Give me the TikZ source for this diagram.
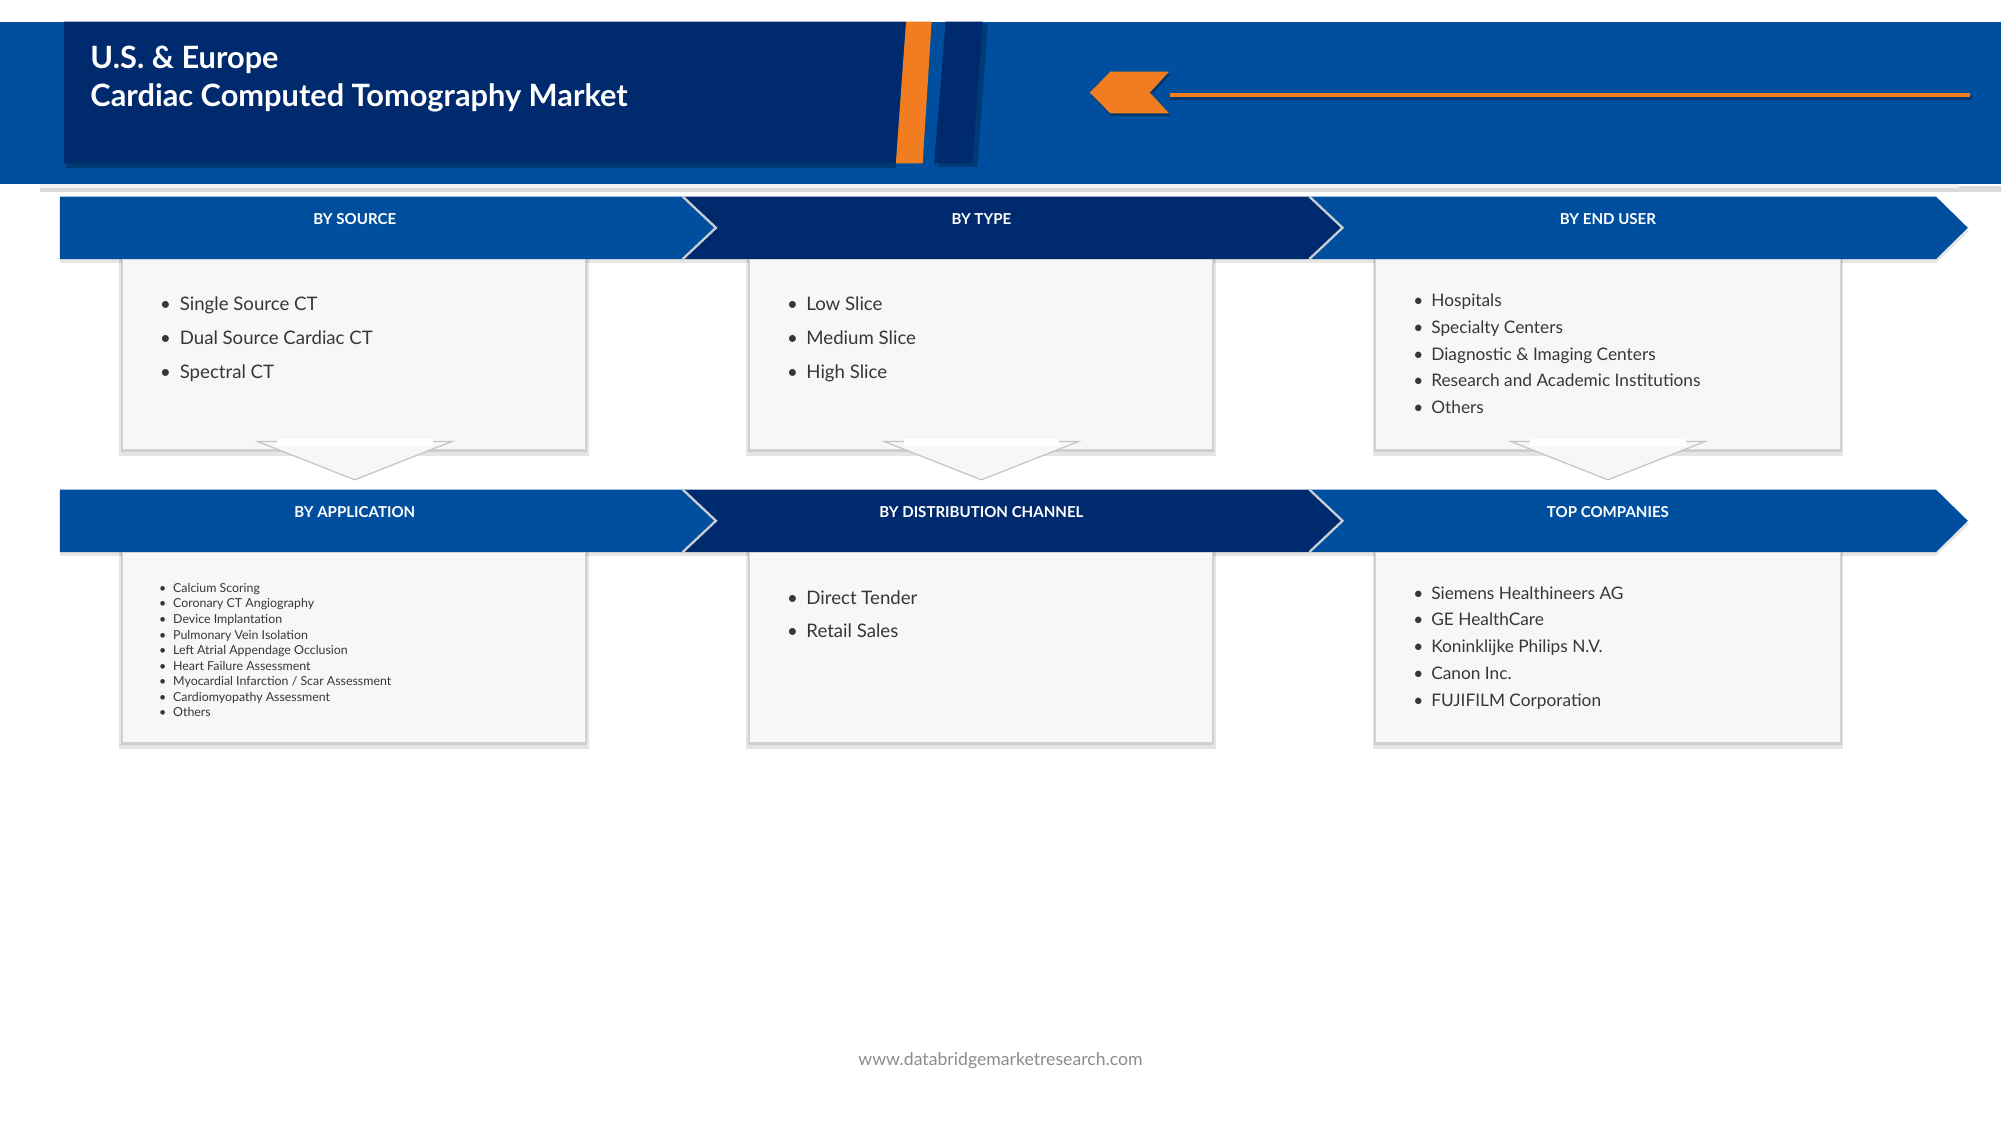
\documentclass[tikz,border=0pt]{standalone}
\usepackage{fontspec}
\setmainfont{Lato}
\definecolor{bandblue}{RGB}{0,79,159}
\definecolor{navy}{RGB}{0,42,110}
\definecolor{dbrorange}{RGB}{242,125,32}
\definecolor{boxfill}{RGB}{247,247,247}
\definecolor{boxline}{RGB}{212,212,212}
\definecolor{itemtext}{RGB}{55,55,55}
\definecolor{seam}{RGB}{200,205,214}
\definecolor{footgray}{RGB}{140,140,140}
\newcommand\itembul[1]{\llap{\makebox[#1][c]{\textbullet}}}
\begin{document}
\begin{tikzpicture}[x=0.5pt,y=-0.5pt,
  heading/.style={anchor=base, inner sep=0, text=white, font=\fontsize{5.9}{7}\selectfont\bfseries},
  titletext/.style={anchor=base west, inner sep=0, text=white, font=\fontsize{12.05}{14}\selectfont\bfseries},
  itembig/.style={anchor=base west, inner sep=0, text=itemtext, font=\fontsize{7.3}{9}\selectfont},
  itemmid/.style={anchor=base west, inner sep=0, text=itemtext, font=\fontsize{6.77}{8}\selectfont},
  itemsmall/.style={anchor=base west, inner sep=0, text=itemtext, font=\fontsize{4.85}{6}\selectfont},
  panel/.style={fill=boxfill, draw=boxline, line width=0.3pt},
  softshadow/.style={fill=black, opacity=0.1},
  seamline/.style={draw=seam, line width=0.9pt, line join=miter},
]
\useasboundingbox (0,0) rectangle (1568,882);
\fill[white] (0,0) rectangle (1568,882);

% ---------- header ----------
\fill[black,opacity=0.14] (31,146) rectangle (1568,150.5);
\fill[bandblue] (0,17) rectangle (1568,144.5);
\fill[gray!10] (31,144.5) rectangle (1535,147);
\fill[black,opacity=0.28] (52,128) rectangle (702,131.5);
\fill[navy] (50,17) -- (710,17) -- (702,128) -- (50,128) -- cycle;
\fill[dbrorange] (710,17) -- (730,17) -- (723,128) -- (702,128) -- cycle;
\fill[black,opacity=0.25] (744,19) -- (774,19) -- (766,131) -- (735,131) -- cycle;
\fill[navy] (741,17) -- (770,17) -- (762,128) -- (732,128) -- cycle;
\fill[black,opacity=0.3] (855,74.6) -- (871,58.2) -- (917,58.2) -- (902,74.6) -- (917,90.8) -- (871,90.8) -- cycle;
\fill[dbrorange] (854,72.6) -- (870,56.2) -- (916,56.2) -- (901,72.6) -- (916,88.8) -- (870,88.8) -- cycle;
\fill[black,opacity=0.3] (917,75) rectangle (1545,78.5);
\fill[dbrorange] (917,72.6) rectangle (1544,76.4);
\node[titletext] (title1) at (70.5,54) {U.S. \& Europe};
\node[titletext] (title2) at (70.5,83.6) {Cardiac Computed Tomography Market};

% ---------- banners and panels ----------
\foreach \T in {154,383.6} {
  \fill[softshadow] (47,\T+2) -- (1517,\T+2) -- (1543,\T+27) -- (1517,\T+52) -- (47,\T+52) -- cycle;
  \fill[bandblue] (47,\T) -- (535,\T) -- (561,\T+24.5) -- (535,\T+49) -- (47,\T+49) -- cycle;
  \fill[navy] (535,\T) -- (1026,\T) -- (1052,\T+24.5) -- (1026,\T+49) -- (535,\T+49) -- (561,\T+24.5) -- cycle;
  \fill[bandblue] (1026,\T) -- (1517,\T) -- (1542,\T+24.5) -- (1517,\T+49) -- (1026,\T+49) -- (1052,\T+24.5) -- cycle;
  \path[seamline] (535,\T) -- (561,\T+24.5) -- (535,\T+49);
  \path[seamline] (1026,\T) -- (1052,\T+24.5) -- (1026,\T+49);
  \foreach \xa/\xb in {96/459,587/950,1078/1442} {
    \fill[softshadow] (\xa-2.5,\T+49) rectangle (\xb+2.5,\T+203);
    \fill[black,opacity=0.1] (\xa-1,\T+49) rectangle (\xb+1,\T+200.5);
    \path[panel] (\xa,\T+49) rectangle (\xb,\T+198);
  }
}
\foreach \cx in {278,769,1260} {
  \filldraw[fill=boxfill, draw=gray!45, line width=0.5pt] (\cx-76,346) -- (\cx+76,346) -- (\cx,376) -- cycle;
  \fill[white] (\cx-61,344) rectangle (\cx+61,349.5);
}

% ---------- headings ----------
\node[heading] (h1) at (278,175.8) {BY SOURCE};
\node[heading] (h2) at (769,175.8) {BY TYPE};
\node[heading] (h3) at (1260,175.8) {BY END USER};
\node[heading] (h4) at (278,405.4) {BY APPLICATION};
\node[heading] (h5) at (769,405.4) {BY DISTRIBUTION CHANNEL};
\node[heading] (h6) at (1260,405.4) {TOP COMPANIES};

% ---------- items ----------
\foreach \t [count=\i from 0] in {Single Source CT, Dual Source Cardiac CT, Spectral CT}
  \node[itembig] (src-\i) at (140.5,243.7+\i*26.4) {\itembul{11.2pt}\t};
\foreach \t [count=\i from 0] in {Low Slice, Medium Slice, High Slice}
  \node[itembig] (typ-\i) at (631.5,243.7+\i*26.4) {\itembul{10.8pt}\t};
\foreach \t [count=\i from 0] in {Hospitals, Specialty Centers, Diagnostic \& Imaging Centers, Research and Academic Institutions, Others}
  \node[itemmid] (usr-\i) at (1121.2,240.3+\i*20.9) {\itembul{10.2pt}\t};
\foreach \t [count=\i from 0] in {Calcium Scoring, Coronary CT Angiography, Device Implantation, Pulmonary Vein Isolation, Left Atrial Appendage Occlusion, Heart Failure Assessment, Myocardial Infarction / Scar Assessment, Cardiomyopathy Assessment, Others}
  \node[itemsmall] (app-\i) at (135.3,464.2+\i*12.18) {\itembul{8.1pt}\t};
\foreach \t [count=\i from 0] in {Direct Tender, Retail Sales}
  \node[itembig] (dst-\i) at (631.5,473.3+\i*26.4) {\itembul{10.8pt}\t};
\foreach \t [count=\i from 0] in {Siemens Healthineers AG, GE HealthCare, Koninklijke Philips N.V., Canon Inc., FUJIFILM Corporation}
  \node[itemmid] (cmp-\i) at (1121.2,469.4+\i*21) {\itembul{10.2pt}\t};

% ---------- footer ----------
\node[anchor=base, inner sep=0, text=footgray, font=\fontsize{6.92}{8}\selectfont] (footer) at (784,834.6) {www.databridgemarketresearch.com};
\end{tikzpicture}
\end{document}
